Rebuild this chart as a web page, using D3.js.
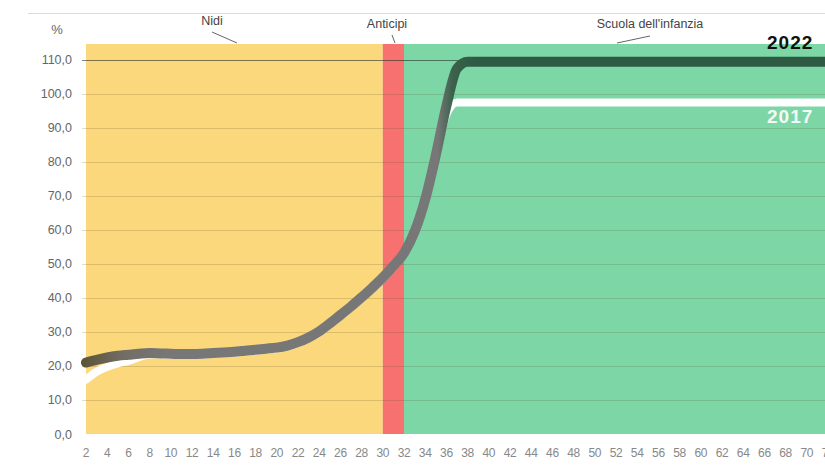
<!DOCTYPE html>
<html>
<head>
<meta charset="utf-8">
<script src="https://cdn.jsdelivr.net/npm/d3@7"></script>
<style>
  html, body { margin: 0; padding: 0; background: #fff; overflow: hidden; }
  text { font-family: "Liberation Sans", Arial, sans-serif; }
</style>
</head>
<body>
<div class="graph"></div>
<script>
// months of age (x categories) and tick labels
const months = d3.range(2, 73);
const xTicks = d3.range(2, 73, 2);
const yTicks = [0, 10, 20, 30, 40, 50, 60, 70, 80, 90, 100, 110];

// service bands (months)
const bandNames = ['Nidi', 'Anticipi', "Scuola dell'infanzia"];
const bandFrom = [2, 30, 32];
const bandTo = [30, 32, 72];

// series, % per month of age (2..72)
const values2022 = [21.0, 21.8, 22.5, 23.0, 23.3, 23.6, 23.8, 23.7, 23.6, 23.5, 23.5, 23.6, 23.8, 24.0, 24.2, 24.5, 24.8, 25.1, 25.4,
    26.0, 27.0, 28.4, 30.2, 32.5, 35.0, 37.5, 40.2, 43.0, 46.0, 49.4, 53.2, 59.5, 69.0, 82.0, 96.5, 107.5,
    109.5, 109.5, 109.5, 109.5, 109.5, 109.5, 109.5, 109.5, 109.5, 109.5, 109.5, 109.5, 109.5, 109.5, 109.5, 109.5, 109.5, 109.5,
    109.5, 109.5, 109.5, 109.5, 109.5, 109.5, 109.5, 109.5, 109.5, 109.5, 109.5, 109.5, 109.5, 109.5, 109.5, 109.5, 109.5];
const values2017 = [16.0, 18.3, 19.8, 20.8, 21.5, 22.6, 23.4, 23.4, 23.3, 23.2, 23.2, 23.3, 23.5, 23.7, 23.9, 24.2, 24.5, 24.8, 25.1,
    25.7, 26.7, 28.1, 29.9, 32.2, 34.7, 37.2, 39.9, 42.7, 45.7, 49.1, 52.9, 59.2, 68.7, 81.5, 94.0, 97.5,
    97.5, 97.5, 97.5, 97.5, 97.5, 97.5, 97.5, 97.5, 97.5, 97.5, 97.5, 97.5, 97.5, 97.5, 97.5, 97.5, 97.5, 97.5,
    97.5, 97.5, 97.5, 97.5, 97.5, 97.5, 97.5, 97.5, 97.5, 97.5, 97.5, 97.5, 97.5, 97.5, 97.5, 97.5, 97.5];

const svgDim = { w: 825, h: 466 };
const svg = d3.select('.graph').append('svg')
    .attr('width', svgDim.w).attr('height', svgDim.h);

const xScale = d3.scaleLinear().domain([2, 72]).range([86, 828]);
const yScale = d3.scaleLinear().domain([0, 114.7]).range([434, 44]);

const bandColors = ['#fbd87b', '#f6716f', '#7dd6a6'];
const fmt = d3.formatLocale({ decimal: ',', thousands: '.', grouping: [3], currency: ['', '€'] }).format('.1f');

// top rule
svg.append('line').attr('x1', 28).attr('x2', svgDim.w).attr('y1', 13.5).attr('y2', 13.5)
    .attr('stroke', '#dcdcdc').attr('stroke-width', 1);

// bands
svg.selectAll('rect.band')
    .data(bandNames)
    .enter()
    .append('rect')
    .attr('class', 'band')
    .attr('x', (d, i) => xScale(bandFrom[i]))
    .attr('y', yScale(114.7))
    .attr('width', (d, i) => xScale(bandTo[i]) - xScale(bandFrom[i]))
    .attr('height', yScale(0) - yScale(114.7))
    .attr('fill', (d, i) => bandColors[i]);

// gridlines
svg.selectAll('line.grid')
    .data(yTicks.filter(d => d > 0))
    .enter()
    .append('line')
    .attr('class', 'grid')
    .attr('x1', 82).attr('x2', svgDim.w)
    .attr('y1', d => Math.round(yScale(d)) + 0.5)
    .attr('y2', d => Math.round(yScale(d)) + 0.5)
    .attr('stroke', d => d === 110 ? 'rgba(40,50,40,0.6)' : 'rgba(90,80,40,0.2)')
    .attr('stroke-width', 1);

// y axis labels
svg.selectAll('text.ylab')
    .data(yTicks)
    .enter()
    .append('text')
    .attr('class', 'ylab')
    .attr('x', 72)
    .attr('y', d => yScale(d) + 4.5)
    .attr('text-anchor', 'end')
    .attr('font-size', 12.5)
    .attr('fill', '#666')
    .text(d => fmt(d));

svg.append('text').attr('x', 57).attr('y', 34).attr('text-anchor', 'middle')
    .attr('font-size', 13).attr('fill', '#666').text('%');

// x axis labels
svg.selectAll('text.xlab')
    .data(xTicks)
    .enter()
    .append('text')
    .attr('class', 'xlab')
    .attr('x', d => xScale(d))
    .attr('y', 457)
    .attr('text-anchor', 'middle')
    .attr('font-size', 12)
    .attr('letter-spacing', -0.3)
    .attr('fill', '#888')
    .text(d => d);

// gradient for the 2022 line
const grad = svg.append('defs').append('linearGradient')
    .attr('id', 'g2022').attr('gradientUnits', 'userSpaceOnUse')
    .attr('x1', 80).attr('x2', svgDim.w).attr('y1', 0).attr('y2', 0);
[[0, '#5b5335'], [0.06, '#726e66'], [0.12, '#777777'], [0.48, '#777777'], [0.5, '#3b624b'], [0.53, '#2e5a43'], [1, '#2e5a43']]
    .forEach(s => grad.append('stop').attr('offset', s[0]).attr('stop-color', s[1]));

const line = d3.line()
    .x((d, i) => xScale(months[i]))
    .y(d => yScale(d))
    .curve(d3.curveMonotoneX);

svg.append('path').datum(values2017)
    .attr('d', line).attr('fill', 'none')
    .attr('stroke', '#ffffff').attr('stroke-width', 8).attr('stroke-linecap', 'round');

svg.append('path').datum(values2022)
    .attr('d', line).attr('fill', 'none')
    .attr('stroke', 'url(#g2022)').attr('stroke-width', 10).attr('stroke-linecap', 'round');

// series labels
svg.append('text').attr('x', 767).attr('y', 49).attr('font-size', 19).attr('font-weight', 'bold')
    .attr('letter-spacing', 1).attr('fill', '#111').attr('font-family', '"DejaVu Sans", sans-serif').text('2022');
svg.append('text').attr('x', 767).attr('y', 123).attr('font-size', 19).attr('font-weight', 'bold')
    .attr('letter-spacing', 1).attr('fill', '#f4fbf6').attr('font-family', '"DejaVu Sans", sans-serif').text('2017');

// band annotations with leader lines
const notes = [
    { x: 212, y: 25, lx1: 212, ly1: 32, lx2: 237, ly2: 43 },
    { x: 387, y: 28, lx1: 392, ly1: 35, lx2: 395, ly2: 43 },
    { x: 650, y: 28, lx1: 617, ly1: 43, lx2: 650, ly2: 36 }
];
notes.forEach((n, i) => {
    svg.append('text').attr('x', n.x).attr('y', n.y).attr('text-anchor', 'middle')
        .attr('font-size', 12.5).attr('fill', '#444').text(bandNames[i]);
    svg.append('line').attr('x1', n.lx1).attr('y1', n.ly1).attr('x2', n.lx2).attr('y2', n.ly2)
        .attr('stroke', '#666').attr('stroke-width', 1);
});
</script>
</body>
</html>
